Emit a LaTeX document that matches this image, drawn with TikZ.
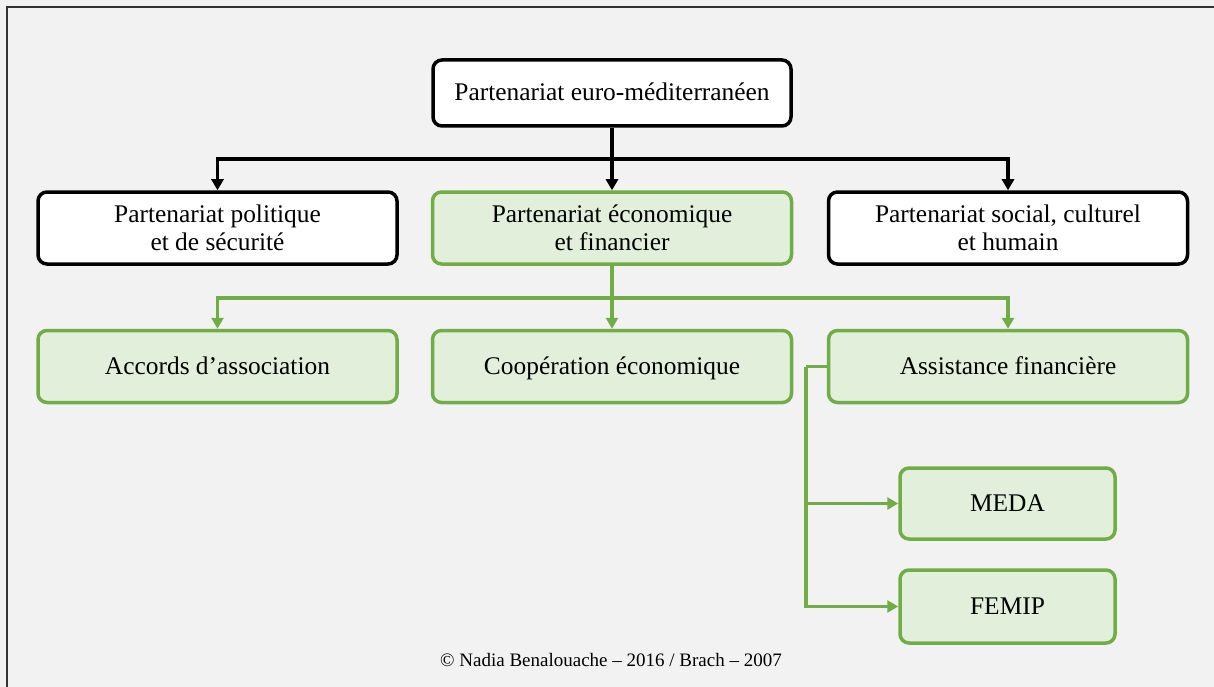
\documentclass[tikz,border=0pt]{standalone}
\usepackage{fontspec}
\setmainfont{Liberation Serif}
\usetikzlibrary{arrows.meta}
\definecolor{bggray}{HTML}{F2F2F2}
\definecolor{leaf}{HTML}{70AD47}
\definecolor{leaffill}{HTML}{E2EFDA}
\tikzset{
  box/.style={draw=black,fill=white,line width=3.5pt,rounded corners=9pt,
    align=center,font=\fontsize{25.4}{28}\selectfont,inner sep=0pt},
  greenbox/.style={box,draw=leaf,fill=leaffill},
  oneline/.style={text height=18pt,text depth=2pt},
  blackarrow/.style={->,line width=3.5pt,draw=black},
  greenarrow/.style={->,line width=3.5pt,draw=leaf},
}
\begin{document}
\begin{tikzpicture}[x=1pt,y=-1pt,>={Triangle[length=11pt,width=12pt]}]
  \useasboundingbox (0,0) rectangle (1214,687);
  \fill[bggray] (0,0) rectangle (1214,687);
  \draw[line width=1.5pt,gray!40!black] (7,687) -- (7,7) -- (1214,7);
  % level 1
  \node[box,oneline,minimum width=358pt,minimum height=66pt] (top) at (612,93)
    {Partenariat euro-méditerranéen};
  % level 2
  \node[box,minimum width=359pt,minimum height=72pt] (pol) at (217.5,228)
    {Partenariat politique\\et de sécurité};
  \node[greenbox,minimum width=359pt,minimum height=72pt] (eco) at (612,228)
    {Partenariat économique\\et financier};
  \node[box,minimum width=359pt,minimum height=72pt] (soc) at (1008,228)
    {Partenariat social, culturel\\et humain};
  % level 3
  \node[greenbox,oneline,minimum width=359pt,minimum height=72pt] (acc) at (217.5,366.5)
    {Accords d’association};
  \node[greenbox,oneline,minimum width=359pt,minimum height=72pt] (coop) at (612,366.5)
    {Coopération économique};
  \node[greenbox,oneline,minimum width=359pt,minimum height=72pt] (fin) at (1008,366.5)
    {Assistance financière};
  % level 4
  \node[greenbox,oneline,minimum width=215pt,minimum height=71pt] (meda) at (1007.5,503.5)
    {MEDA};
  \node[greenbox,oneline,minimum width=215pt,minimum height=73pt] (femip) at (1007.5,606.5)
    {FEMIP};
  \node[font=\fontsize{19}{22}\selectfont] (src) at (611,660)
    {© Nadia Benalouache – 2016 / Brach – 2007};
  % connectors
  \coordinate (busA) at (612,159);
  \coordinate (busB) at (612,298);
  \coordinate (branch) at (806,366.5);
  \draw[blackarrow] (top.south) -- (eco.north);
  \draw[blackarrow] (busA) -| (pol.north);
  \draw[blackarrow] (busA) -| (soc.north);
  \draw[greenarrow] (eco.south) -- (coop.north);
  \draw[greenarrow] (busB) -| (acc.north);
  \draw[greenarrow] (busB) -| (fin.north);
  \draw[line width=3.5pt,leaf] (fin.west) -- (branch);
  \draw[greenarrow] (branch) |- (meda.west);
  \draw[greenarrow] (branch) |- (femip.west);
\end{tikzpicture}
\end{document}
